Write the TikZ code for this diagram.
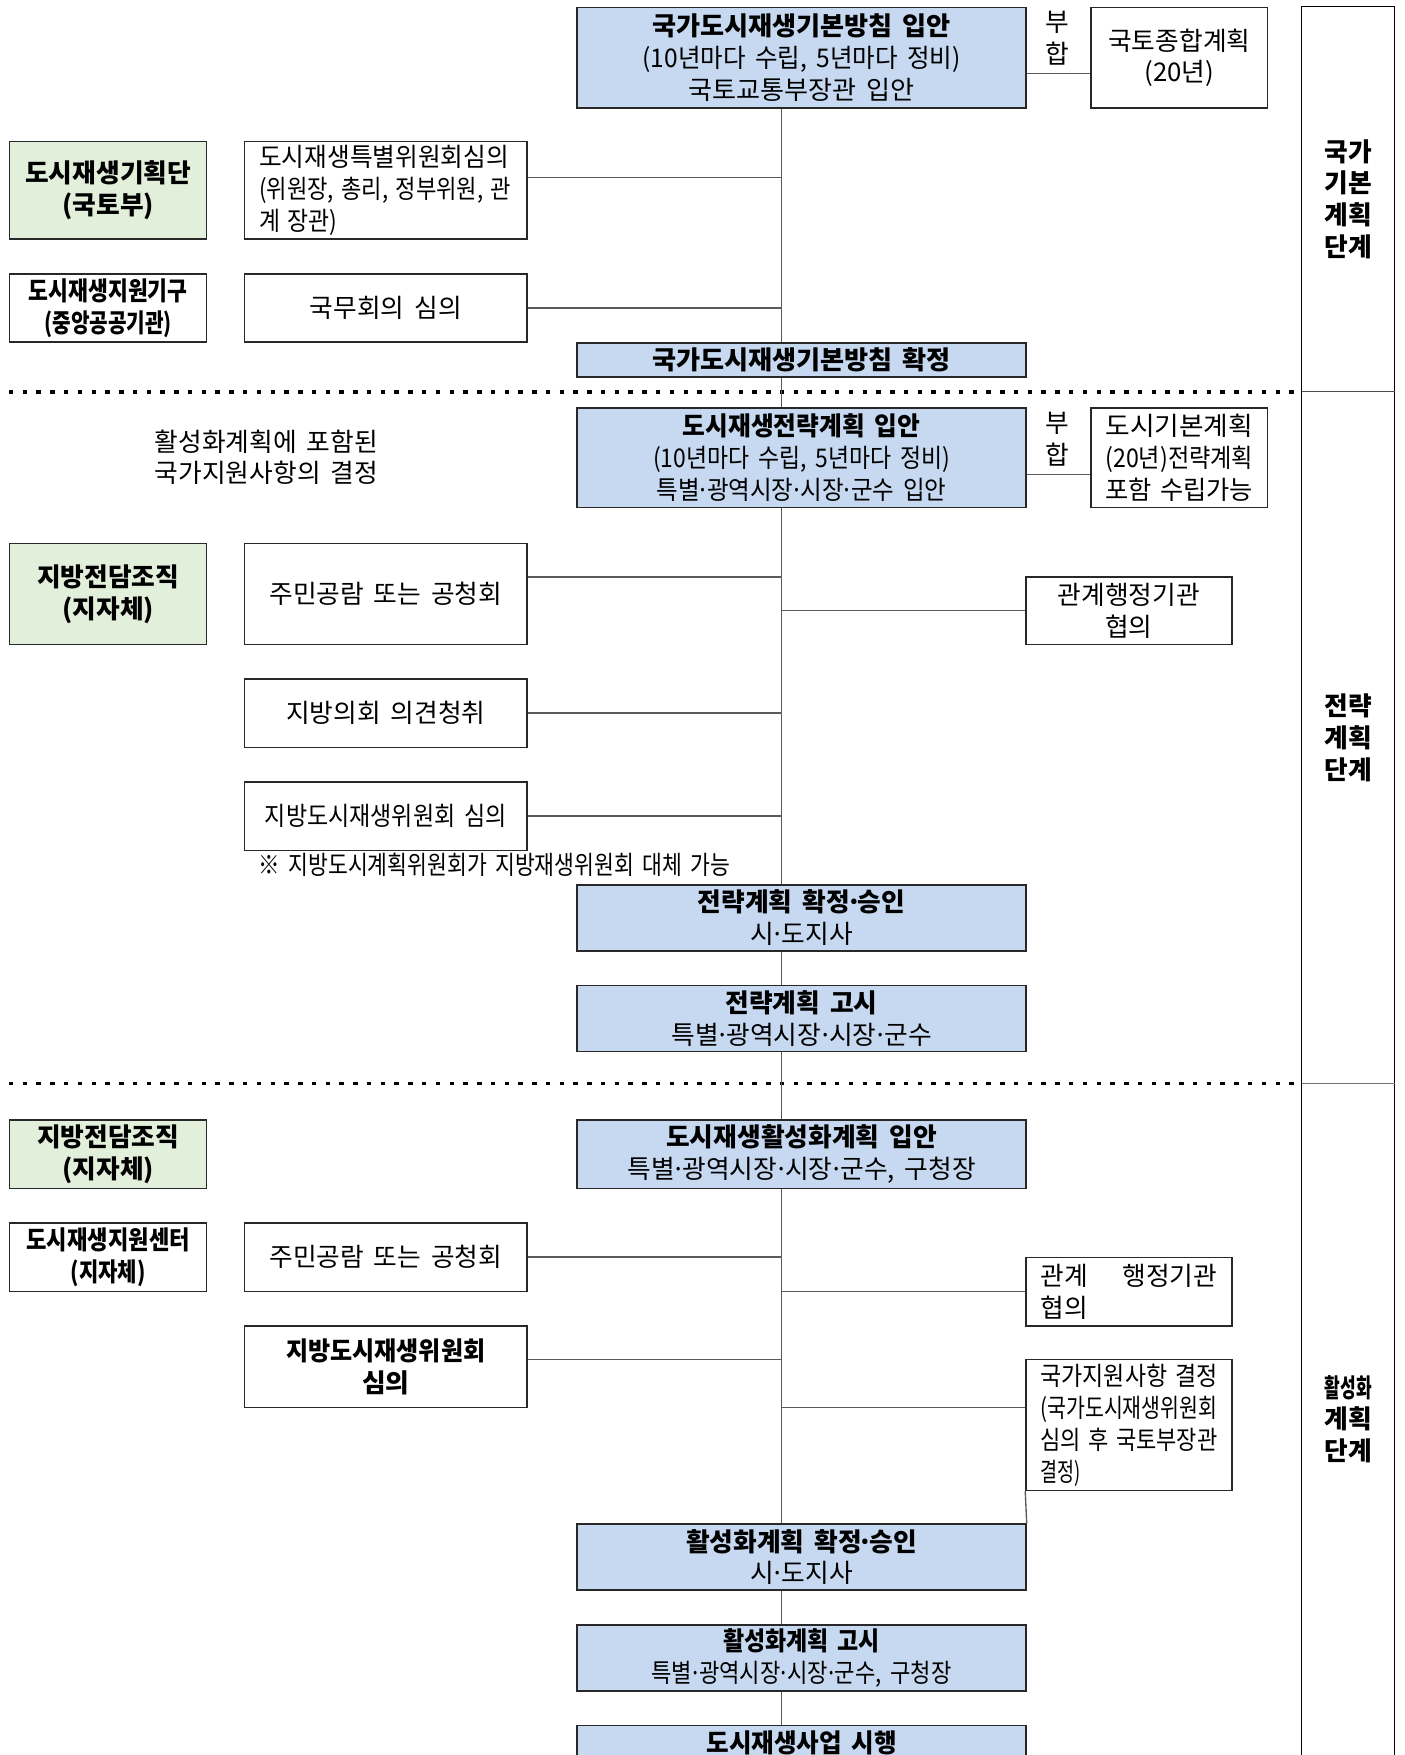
\documentclass[tikz,border=0pt]{standalone}
\usepackage{fontspec}
\setmainfont{Noto Sans CJK KR}[WordSpace=1.7]
\definecolor{bluef}{RGB}{198,217,240}
\definecolor{greenf}{RGB}{226,239,218}
\definecolor{edgec}{RGB}{40,40,40}
\definecolor{connc}{RGB}{90,90,90}
\newcommand{\sq}[2]{\resizebox{#1}{\height}{#2}}
\newcommand{\md}{\makebox[7pt][c]{·}}
\tikzset{
  box/.style={draw=edgec, line width=1.3pt, inner sep=0pt, anchor=north west,
    font=\fontsize{23}{28.5}\selectfont, align=center},
  bluebox/.style={box, fill=bluef},
  greenbox/.style={box, fill=greenf, font=\fontsize{23}{28.5}\selectfont\bfseries},
  whitebox/.style={box, fill=white},
  boldwhite/.style={box, fill=white, font=\fontsize{23}{28.5}\selectfont\bfseries},
  leftbox/.style={whitebox, align=left, inner xsep=13pt},
  conn/.style={draw=connc, line width=1.2pt},
  dotline/.style={line width=3.4pt, dash pattern=on 4pt off 8.3pt},
  plain/.style={inner sep=0pt, font=\fontsize{23}{28.5}\selectfont, align=center},
  stage/.style={inner sep=0pt, font=\fontsize{23}{28.5}\selectfont\bfseries, align=center}
}
\begin{document}
\begin{tikzpicture}[x=1pt,y=-1pt]
\useasboundingbox (0,0) rectangle (1255,1568);
\clip (0,0) rectangle (1255,1568);
\coordinate (sp) at (698,0);

% ---------- national stage ----------
\node[bluebox, minimum width=401pt, minimum height=90pt] (A) at (515,6)
  {{\bfseries\sq{267pt}{국가도시재생기본방침 입안}}\\\sq{284pt}{(10년마다 수립, 5년마다 정비)}\\\sq{202pt}{국토교통부장관 입안}};
\node[plain] (bh1) at (945,34) {부\\합};
\node[whitebox, minimum width=158pt, minimum height=90pt] (N1) at (974,6) {국토종합계획\\(20년)};
\node[greenbox, minimum width=176pt, minimum height=87pt] (G1) at (8,126) {도시재생기획단\\(국토부)};
\node[leftbox, text width=226pt, minimum height=87pt] (W1) at (218,126)
  {\sq{223pt}{도시재생특별위원회심의}\\\sq{225pt}{(위원장, 총리, 정부위원, 관}\\\sq{70pt}{계 장관)}};
\node[boldwhite, minimum width=176pt, minimum height=61pt] (O1) at (8,244)
  {\sq{142pt}{도시재생지원기구}\\\sq{114pt}{(중앙공공기관)}};
\node[whitebox, minimum width=252pt, minimum height=61pt] (W2) at (218,244) {국무회의 심의};
\node[bluebox, minimum width=401pt, minimum height=30pt] (A2) at (515,306) {\bfseries\sq{267pt}{국가도시재생기본방침 확정}};

% ---------- strategy stage ----------
\node[plain] (T1) at (238,408.5) {활성화계획에 포함된\\국가지원사항의 결정};
\node[bluebox, minimum width=401pt, minimum height=89pt] (B1) at (515,364)
  {{\bfseries\sq{212pt}{도시재생전략계획 입안}}\\\sq{265pt}{(10년마다 수립, 5년마다 정비)}\\\sq{259pt}{특별\md 광역시장\md 시장\md 군수 입안}};
\node[plain] (bh2) at (945,392) {부\\합};
\node[leftbox, text width=132pt, minimum height=89pt] (N2) at (974,364)
  {\sq{132pt}{도시기본계획}\\\sq{132pt}{(20년)전략계획}\\\sq{132pt}{포함 수립가능}};
\node[greenbox, minimum width=176pt, minimum height=90pt] (G2) at (8,485) {지방전담조직\\(지자체)};
\node[whitebox, minimum width=252pt, minimum height=90pt] (W3) at (218,485) {주민공람 또는 공청회};
\node[whitebox, minimum width=184pt, minimum height=60pt] (R1) at (916,515) {관계행정기관\\협의};
\node[whitebox, minimum width=252pt, minimum height=61pt] (W4) at (218,606) {지방의회 의견청취};
\node[whitebox, minimum width=252pt, minimum height=61pt] (W5) at (218,698) {\sq{216pt}{지방도시재생위원회 심의}};
\node[plain, anchor=west] (NT) at (231,773) {\sq{421pt}{※ 지방도시계획위원회가 지방재생위원회 대체 가능}};
\node[bluebox, minimum width=401pt, minimum height=59pt] (B2) at (515,790) {{\bfseries 전략계획 확정\md 승인}\\시\md 도지사};
\node[bluebox, minimum width=401pt, minimum height=59pt] (B3) at (515,880) {{\bfseries 전략계획 고시}\\특별\md 광역시장\md 시장\md 군수};

% ---------- activation stage ----------
\node[greenbox, minimum width=176pt, minimum height=61pt] (G3) at (8,1000) {지방전담조직\\(지자체)};
\node[bluebox, minimum width=401pt, minimum height=61pt] (C1) at (515,1000)
  {{\bfseries 도시재생활성화계획 입안}\\특별\md 광역시장\md 시장\md 군수, 구청장};
\node[boldwhite, minimum width=176pt, minimum height=61pt] (O2) at (8,1092)
  {\sq{146pt}{도시재생지원센터}\\\sq{67pt}{(지자체)}};
\node[whitebox, minimum width=252pt, minimum height=61pt] (W6) at (218,1092) {주민공람 또는 공청회};
\node[leftbox, text width=158pt, minimum height=61pt] (R2) at (916,1123)
  {\makebox[158pt][l]{관계\hfill 행정기관}\\협의};
\node[boldwhite, minimum width=252pt, minimum height=73pt] (W7) at (218,1184)
  {\sq{178pt}{지방도시재생위원회}\\심의};
\node[leftbox, text width=158pt, minimum height=117pt] (R3) at (916,1214)
  {\sq{158pt}{국가지원사항 결정}\\\sq{158pt}{(국가도시재생위원회}\\\sq{158pt}{심의 후 국토부장관}\\\sq{36pt}{결정)}};
\node[bluebox, minimum width=401pt, minimum height=59pt] (C2) at (515,1361) {{\bfseries 활성화계획 확정\md 승인}\\시\md 도지사};
\node[bluebox, minimum width=401pt, minimum height=59pt] (C3) at (515,1451)
  {{\bfseries\sq{140pt}{활성화계획 고시}}\\\sq{268pt}{특별\md 광역시장\md 시장\md 군수, 구청장}};
\node[bluebox, minimum width=401pt, minimum height=59pt] (C4) at (515,1541) {{\bfseries\sq{170pt}{도시재생사업 시행}}\\\phantom{시}};

% ---------- stage column ----------
\draw[draw=black, line width=1.3pt] (1163,1600) -- (1163,6) -- (1246,6) -- (1246,1600);
\draw[draw=black!70, line width=1.3pt] (1163,350) -- (1246,350);
\draw[draw=black!55, line width=1.6pt] (1163,968) -- (1246,968);
\node[stage] (S1) at (1204.5,178) {국가\\기본\\계획\\단계};
\node[stage] (S2) at (1204.5,659) {전략\\계획\\단계};
\node[stage] (S3) at (1204.5,1268) {\sq{42pt}{활성화}\\계획\\단계};

% ---------- dotted separators ----------
\draw[dotline] (8,350) -- (1163,350);
\draw[dotline] (8,968) -- (1163,968);

% ---------- spine ----------
\draw[conn] (A.south -| sp) -- (A2.north -| sp);
\draw[conn] (A2.south -| sp) -- (B1.north -| sp);
\draw[conn] (B1.south -| sp) -- (B2.north -| sp);
\draw[conn] (B2.south -| sp) -- (B3.north -| sp);
\draw[conn] (B3.south -| sp) -- (C1.north -| sp);
\draw[conn] (C1.south -| sp) -- (C2.north -| sp);
\draw[conn] (C2.south -| sp) -- (C3.north -| sp);
\draw[conn] (C3.south -| sp) -- (C4.north -| sp);

% ---------- side connectors ----------
\coordinate (ab) at ([yshift=-14pt]A.east);
\draw[conn] (ab) -- (ab -| N1.west);
\coordinate (bb) at ([yshift=-14.5pt]B1.east);
\draw[conn] (bb) -- (bb -| N2.west);
\coordinate (w1c) at ([yshift=11.5pt]W1.east);
\draw[conn] (w1c) -- (w1c -| sp);
\draw[conn] (W2.east) -- (W2.east -| sp);
\coordinate (w3c) at ([yshift=15pt]W3.east);
\draw[conn] (w3c) -- (w3c -| sp);
\draw[conn] (W4.east) -- (W4.east -| sp);
\draw[conn] (W5.east) -- (W5.east -| sp);
\draw[conn] (R1.west -| sp) -- (R1.west);
\draw[conn] (W6.east) -- (W6.east -| sp);
\coordinate (w7c) at ([yshift=6.5pt]W7.east);
\draw[conn] (w7c) -- (w7c -| sp);
\draw[conn] (R2.west -| sp) -- (R2.west);
\coordinate (r3c) at ([yshift=15.5pt]R3.west);
\draw[conn] (r3c -| sp) -- (r3c);
\draw[conn] (R3.south west) -- (C2.north east);
\end{tikzpicture}
\end{document}
